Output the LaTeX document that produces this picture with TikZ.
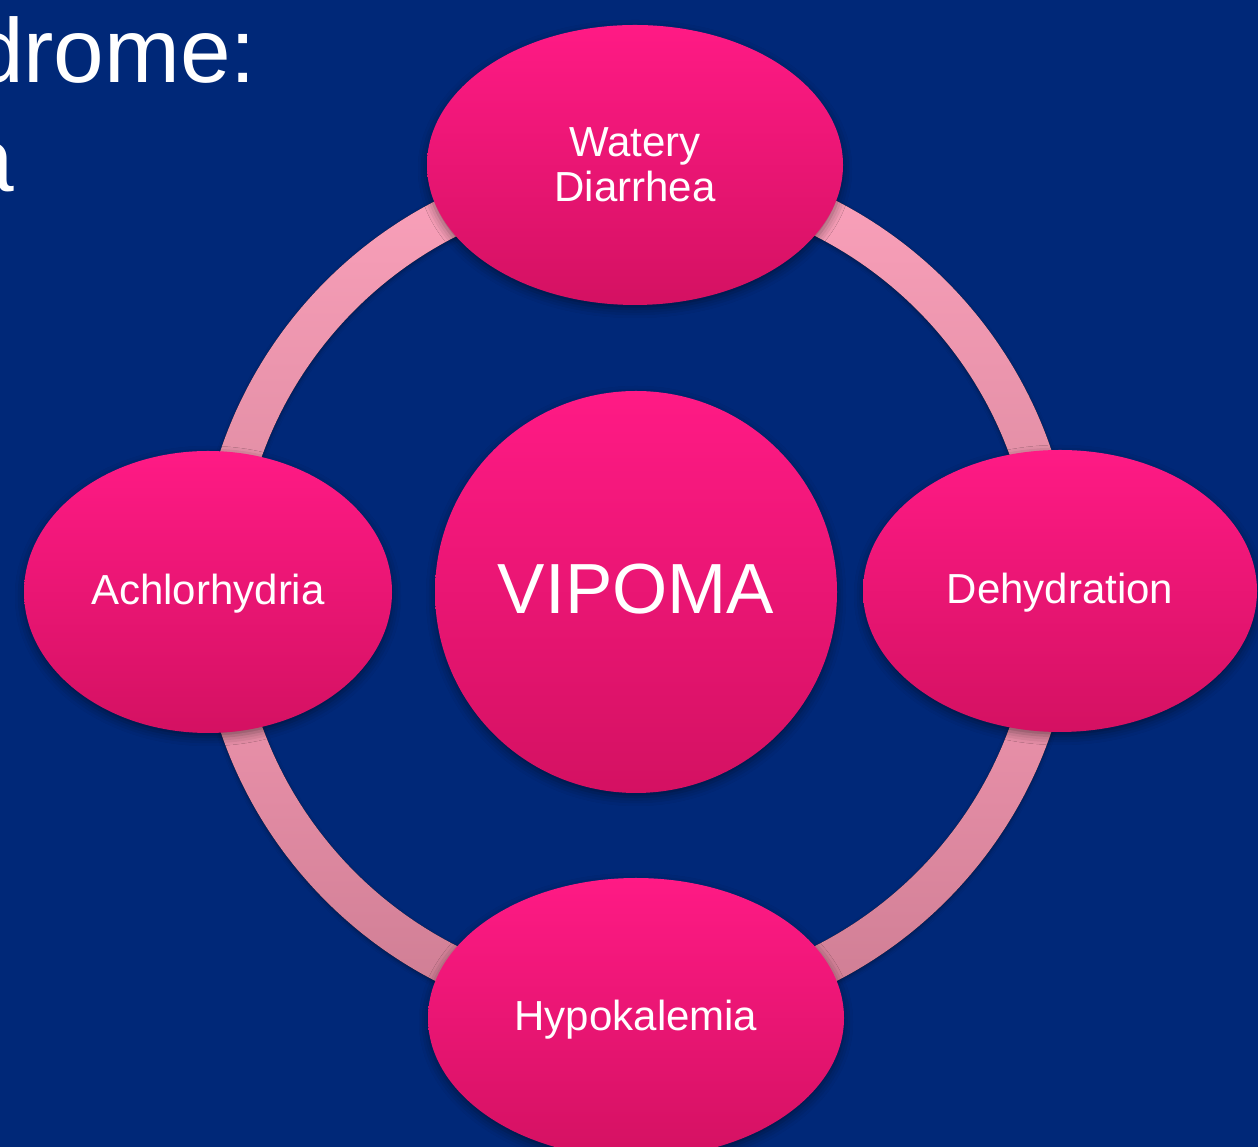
\documentclass[tikz,border=0pt]{standalone}
\usepackage{fontspec}
\setmainfont{Liberation Sans}
\usetikzlibrary{shapes.geometric,calc,shadows.blur}

\definecolor{slidebg}{RGB}{0,40,120}
\definecolor{podtop}{RGB}{255,26,133}
\definecolor{podbot}{RGB}{212,17,98}
\definecolor{ringtopA}{RGB}{252,162,188}
\definecolor{ringbotA}{RGB}{218,136,158}
\definecolor{ringtopB}{RGB}{244,152,178}
\definecolor{ringbotB}{RGB}{204,124,146}

\tikzset{
  softshadow/.style={blur shadow={shadow xshift=0pt, shadow yshift=-4pt,
      shadow blur radius=9pt, shadow opacity=45}},
  pod/.style={ellipse, inner sep=0pt, draw=none, text=white,
      top color=podtop, bottom color=podbot, softshadow,
      font=\fontsize{42pt}{45pt}\selectfont},
  oneline/.style={text height=30pt, text depth=4pt},
  bigline/.style={text height=51pt, text depth=8pt},
  heading/.style={anchor=base east, inner sep=0pt, text=white,
      font=\fontsize{91pt}{110pt}\selectfont},
}

\begin{document}
\begin{tikzpicture}[x=1pt, y=1pt]
  % slide background
  \fill[slidebg] (0,0) rectangle (1258,1147);
  \useasboundingbox (0,0) rectangle (1258,1147);

  % heading fragments at the left edge
  \node[heading] (headA) at (256.5,1064) {drome:};
  \node[heading] (headB) at (14.5,955) {a};

  % ring linking the four outer pods
  \coordinate (hub) at (636,556);
  \foreach \a/\b/\ct/\cb in {0/90/ringtopA/ringbotA, 90/180/ringtopA/ringbotA,
                              180/270/ringtopB/ringbotB, 270/360/ringtopB/ringbotB}{
    \fill[top color=\ct, bottom color=\cb,
          blur shadow={shadow xshift=0pt, shadow yshift=-2pt,
                       shadow blur radius=4pt, shadow opacity=35}]
      ($(hub)+(\a:438.5)$) arc[start angle=\a, end angle=\b, radius=438.5]
      -- ($(hub)+(\b:397.5)$) arc[start angle=\b, end angle=\a, radius=397.5]
      -- cycle;
  }

  % outer pods
  \node[pod, align=center, minimum width=416pt, minimum height=280pt]
    (watery) at (635,982) {Watery\\Diarrhea};
  \node[pod, oneline, minimum width=368pt, minimum height=282pt]
    (achlor) at (208,555) {Achlorhydria};
  \node[pod, oneline, minimum width=394pt, minimum height=282pt]
    (dehyd) at (1060,556) {Dehydration};
  \node[pod, oneline, minimum width=416pt, minimum height=280pt]
    (hypok) at (636,129) {Hypokalemia};

  % central circle
  \node[pod, circle, bigline, minimum size=402pt,
        font=\fontsize{71pt}{80pt}\selectfont]
    (vipoma) at (636,555) {VIPOMA};
\end{tikzpicture}
\end{document}
